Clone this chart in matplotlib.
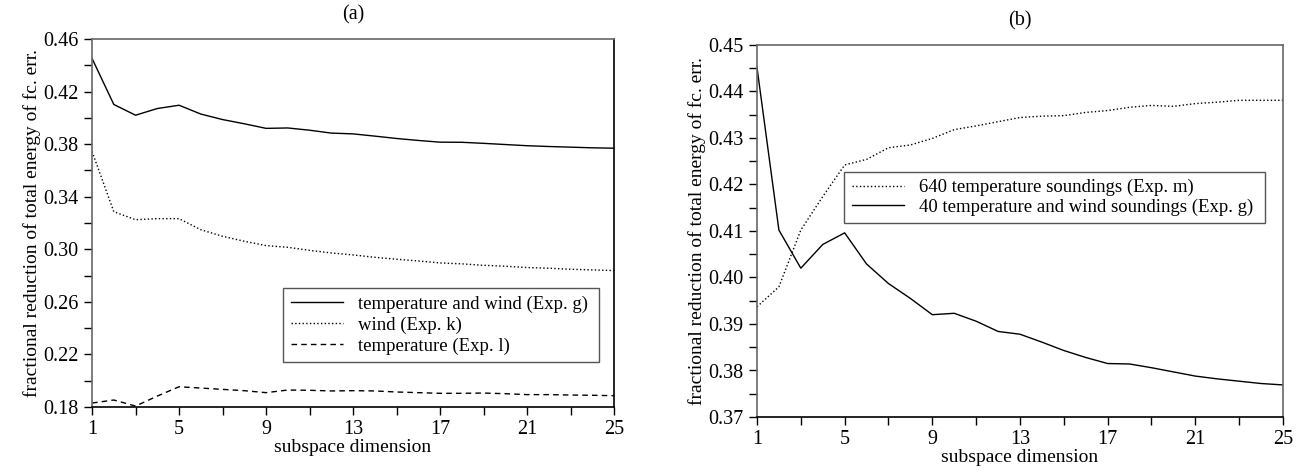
import numpy as np
import matplotlib.pyplot as plt
from matplotlib.ticker import FixedLocator

plt.rcParams["font.family"] = ["Liberation Serif", "DejaVu Serif"]
plt.rcParams["font.size"] = 14

dims = list(range(1, 26))

# Exp. g: temperature and wind (40 soundings)
exp_g = [0.4452, 0.4102, 0.4020, 0.4071, 0.4096, 0.4029, 0.3987, 0.3955, 0.3920, 0.3923,
         0.3906, 0.3884, 0.3878, 0.3861, 0.3843, 0.3828, 0.3815, 0.3814, 0.3806, 0.3797,
         0.3788, 0.3782, 0.3777, 0.3772, 0.3769]
# Exp. k: wind
exp_k = [0.3744, 0.3286, 0.3225, 0.3233, 0.3233, 0.3149, 0.3099, 0.3061, 0.3028, 0.3015,
         0.2992, 0.2972, 0.2957, 0.2939, 0.2924, 0.2911, 0.2896, 0.2889, 0.2878, 0.2871,
         0.2861, 0.2856, 0.2848, 0.2843, 0.2838]
# Exp. l: temperature
exp_l = [0.1830, 0.1853, 0.1807, 0.1883, 0.1954, 0.1944, 0.1934, 0.1924, 0.1909, 0.1929,
         0.1927, 0.1922, 0.1924, 0.1922, 0.1914, 0.1909, 0.1904, 0.1904, 0.1906, 0.1901,
         0.1894, 0.1894, 0.1891, 0.1889, 0.1886]
# Exp. m: 640 temperature soundings
exp_m = [0.3937, 0.3980, 0.4102, 0.4174, 0.4242, 0.4254, 0.4279, 0.4285, 0.4299, 0.4318,
         0.4326, 0.4335, 0.4344, 0.4347, 0.4348, 0.4355, 0.4359, 0.4366, 0.4370, 0.4368,
         0.4374, 0.4377, 0.4381, 0.4381, 0.4381]

labels_a = ["temperature and wind (Exp. g)", "wind (Exp. k)", "temperature (Exp. l)"]
labels_b = ["640 temperature soundings (Exp. m)", "40 temperature and wind soundings (Exp. g)"]

YLABEL = "fractional reduction of total energy of fc. err."
XLABEL = "subspace dimension"
DASHED = (0, (4, 3))


def style_axes(ax, ylo, yhi, ystep, right_color):
    ax.set_xlim(1, 25)
    ax.set_ylim(ylo, yhi)
    ax.xaxis.set_major_locator(FixedLocator(range(1, 26, 4)))
    ax.xaxis.set_minor_locator(FixedLocator(range(3, 26, 4)))
    major = np.round(np.arange(ylo, yhi + ystep / 2, ystep), 4)
    ax.yaxis.set_major_locator(FixedLocator(major))
    ax.yaxis.set_minor_locator(FixedLocator(major[:-1] + ystep / 2))
    ax.yaxis.set_major_formatter(plt.FormatStrFormatter("%.2f"))
    ax.tick_params(which="both", direction="out", length=6, width=1, labelsize=14.5)
    for side in ("left", "top"):
        ax.spines[side].set_color("#666666")
    ax.spines["right"].set_color(right_color)
    ax.spines["bottom"].set_color("black")
    for s in ax.spines.values():
        s.set_linewidth(1.2)
    ax.set_xlabel(XLABEL, fontsize=14, labelpad=0)
    ax.set_ylabel(YLABEL, fontsize=14, labelpad=2)


fig = plt.figure(figsize=(13.02, 4.75), dpi=100)
ax_a = fig.add_axes([0.0707, 0.1432, 0.4009, 0.7747])
ax_b = fig.add_axes([0.5814, 0.1221, 0.4040, 0.7832])

ax_a.plot(dims, exp_g, color="black", lw=1, label=labels_a[0])
ax_a.plot(dims, exp_k, color="black", lw=1, ls=":", label=labels_a[1])
ax_a.plot(dims, exp_l, color="black", lw=1, ls=DASHED, label=labels_a[2])
style_axes(ax_a, 0.18, 0.46, 0.04, "black")
ax_a.set_title("(a)", fontsize=14.5, pad=14)
ax_a.legend(loc="lower left", bbox_to_anchor=(0.366, 0.121, 0.606, 0.191), mode="expand",
            fancybox=False, edgecolor="#555555", framealpha=1, handlelength=2.8,
            borderaxespad=0, fontsize=13.5, labelspacing=0.2)

ax_b.plot(dims, exp_m, color="black", lw=1, ls=":", label=labels_b[0])
ax_b.plot(dims, exp_g, color="black", lw=1, label=labels_b[1])
style_axes(ax_b, 0.37, 0.45, 0.01, "#666666")
ax_b.set_title("(b)", fontsize=14.5, pad=14)
ax_b.legend(loc="lower left", bbox_to_anchor=(0.166, 0.521, 0.8, 0.13), mode="expand",
            fancybox=False, edgecolor="#555555", framealpha=1, handlelength=2.8,
            borderaxespad=0, fontsize=13.5, labelspacing=0.1)

fig.savefig("out.png", dpi=100)
